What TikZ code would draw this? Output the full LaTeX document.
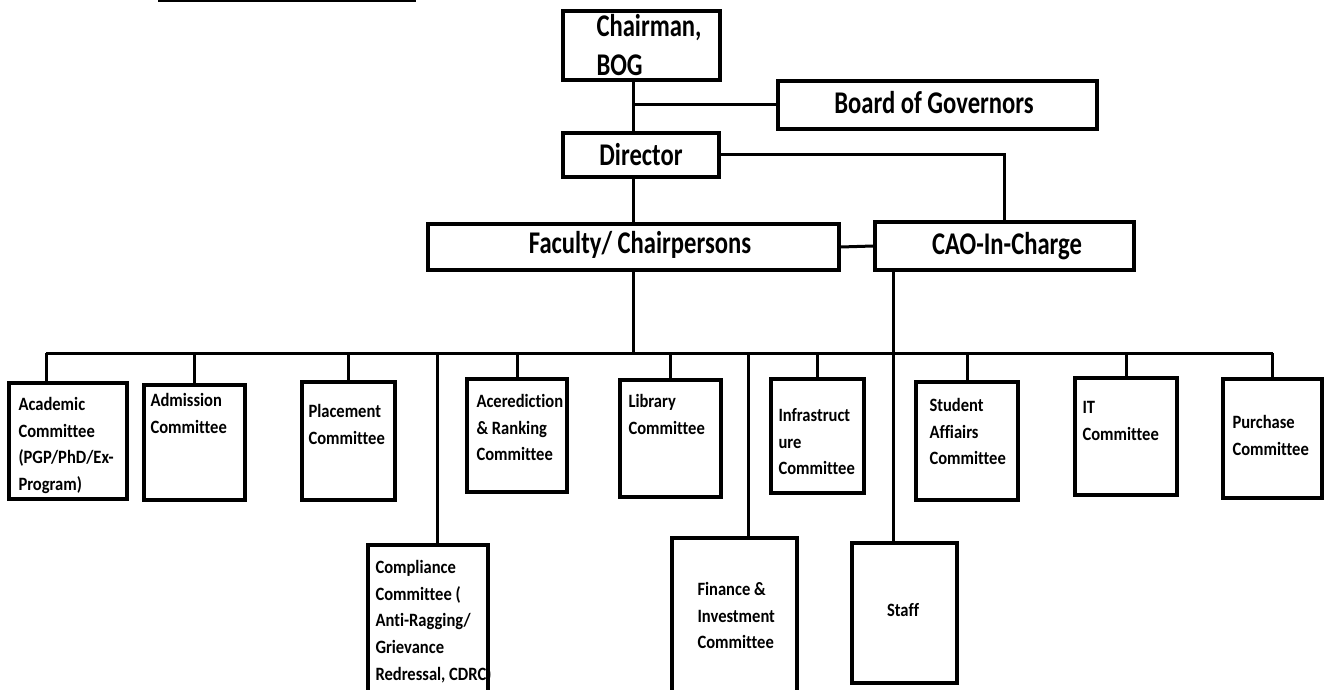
\documentclass[tikz,border=0pt]{standalone}
\usepackage{fontspec}
\setmainfont{Carlito}[FakeStretch=0.88, Ligatures={NoCommon}]
\newfontfamily\tallfont{Carlito}[FakeStretch=0.78, Ligatures={NoCommon}]
\usetikzlibrary{fit}

\begin{document}
\begin{tikzpicture}[x=0.5pt, y=-0.5pt, line width=1.5pt,
    box/.style={draw, line width=1.8pt, inner sep=0pt},
    big/.style={font=\tallfont\bfseries\fontsize{15.8}{19.5}\selectfont, inner sep=0pt},
    small/.style={font=\bfseries\fontsize{9.4}{13.3}\selectfont, align=left, inner sep=0pt, anchor=north west}]
\useasboundingbox (0,0) rectangle (1324,690);
\clip (0,0) rectangle (1324,690);
\draw[line width=1.2pt] (158,1) -- (416,1);
% top of the chart
\node[box, fit={(563,11) (720,80)}] (chair) {};
\node[box, fit={(778,81) (1097,129)}] (bog) {};
\node[box, fit={(563,133) (719,177)}] (dir) {};
\node[box, fit={(428,224) (839,270)}] (fac) {};
\node[box, fit={(875,222) (1134,270)}] (cao) {};
\node[big, align=left, anchor=north west] (chairtxt) at (595,13) {Chairman,\\BOG};
\node[big, anchor=base] (bogtxt) at (934,114) {Board of Governors};
\node[big, anchor=base] (dirtxt) at (641,166) {Director};
\node[big, anchor=base] (factxt) at (640,254) {Faculty/ Chairpersons};
\node[big, anchor=base] (caotxt) at (1007,255) {CAO-In-Charge};
% committees
\node[box, fit={(9,383) (127,499)}] (acad) {};
\node[box, fit={(144,385) (245,500)}] (adm) {};
\node[box, fit={(302,382) (395,500)}] (plc) {};
\node[box, fit={(467,379) (567,492)}] (acc) {};
\node[box, fit={(620,380) (721,497)}] (lib) {};
\node[box, fit={(771,379) (864,493)}] (inf) {};
\node[box, fit={(916,382) (1018,500)}] (stu) {};
\node[box, fit={(1075,378) (1177,495)}] (it) {};
\node[box, fit={(1223,379) (1322,498)}] (pur) {};
\node[box, fit={(368,545) (488,720)}] (comp) {};
\node[box, fit={(672,538) (797,720)}] (fin) {};
\node[box, fit={(852,543) (957,683)}] (staff) {};
\node[small] (acadtxt) at (17,396) {Academic\\Committee\\(PGP/PhD/Ex-\\Program)};
\node[small] (admtxt) at (149,392) {Admission\\Committee};
\node[small] (plctxt) at (307,403) {Placement\\Committee};
\node[small] (acctxt) at (475,393) {Acerediction\\\& Ranking\\Committee};
\node[small] (libtxt) at (627,393) {Library\\Committee};
\node[small] (inftxt) at (777,407) {Infrastruct\\ure\\Committee};
\node[small] (stutxt) at (928,397) {Student\\Affiairs\\Committee};
\node[small] (ittxt) at (1081,400) {IT\\Committee};
\node[small] (purtxt) at (1231,414) {Purchase\\Committee};
\node[small] (comptxt) at (374,559) {Compliance\\Committee (\\Anti-Ragging/\\Grievance\\Redressal, CDRC)};
\node[small] (fintxt) at (696,581) {Finance \&\\Investment\\Committee};
\node[small, anchor=center] (stafftxt) at (903,610) {Staff};
% connectors
\coordinate (busL) at (46,353);
\coordinate (busR) at (1273,353);
\coordinate (compdrop) at (437,353);
\coordinate (findrop) at (748,353);
\coordinate (caostem) at (893,270);
\draw (chair.south -| fac.north) -- (dir.north -| fac.north);
\draw (bog.west) -- (bog.west -| fac.north);
\draw (dir.south -| fac.north) -- (fac.north);
\draw (dir.east) -| (cao.north);
\draw (fac.east) -- (cao.west);
\draw (fac.south) -- (fac.south |- busL);
\draw (busL) -- (busR);
\draw (busL) -- (busL |- acad.north);
\foreach \n in {adm, plc, acc, lib, inf, stu, it, pur}
    \draw (\n.north |- busL) -- (\n.north);
\draw (compdrop) -- (compdrop |- comp.north);
\draw (findrop) -- (findrop |- fin.north);
\draw (caostem) -- (caostem |- staff.north);
\end{tikzpicture}
\end{document}
